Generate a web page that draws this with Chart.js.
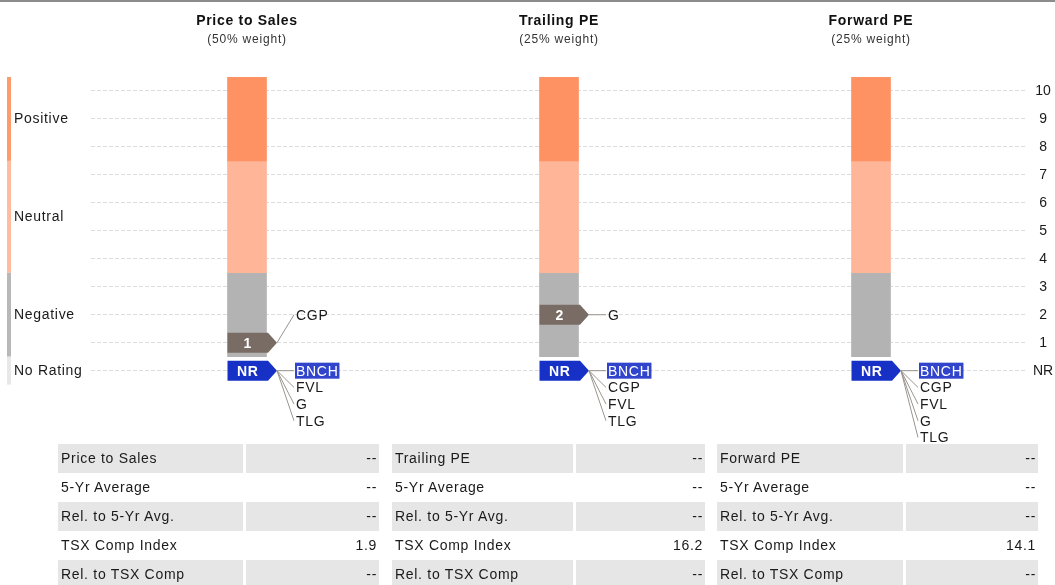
<!DOCTYPE html>
<html>
<head>
<meta charset="utf-8">
<script src="https://cdn.jsdelivr.net/npm/chart.js@4.4.1/dist/chart.umd.min.js"></script>
<style>
html,body{margin:0;padding:0;background:#fff;}
#wrap{position:relative;width:1055px;height:585px;overflow:hidden;font-family:"Liberation Sans",Arial,sans-serif;}
#topline{position:absolute;left:0;top:0;width:1055px;height:2px;background:#8c8c8c;z-index:2;}
#c{position:absolute;left:0;top:0;}
.tbl{position:absolute;top:444px;}
.row{display:flex;height:29px;}
.cell{height:29px;line-height:29px;font-size:14px;letter-spacing:0.7px;color:#1a1a1a;white-space:nowrap;box-sizing:border-box;}
.lab{padding-left:3px;}
.val{padding-right:2px;text-align:right;margin-left:3px;}
.row.g .cell{background:#e6e6e6;}
</style>
</head>
<body>
<div id="wrap">
  <div id="topline"></div>
  <canvas id="c" width="1055" height="455"></canvas>
</div>
<script>
// ---------- data ----------
const categories = ['Price to Sales', 'Trailing PE', 'Forward PE'];
const weights = ['(50% weight)', '(25% weight)', '(25% weight)'];
const bandNames = ['Positive', 'Neutral', 'Negative', 'No Rating'];
const positiveBand = [[7.5, 10.5], [7.5, 10.5], [7.5, 10.5]];
const neutralBand = [[3.5, 7.5], [3.5, 7.5], [3.5, 7.5]];
const negativeBand = [[0.5, 3.5], [0.5, 3.5], [0.5, 3.5]];
const noRatingBand = [-0.5, 0.5];
const scoreTicks = [0, 1, 2, 3, 4, 5, 6, 7, 8, 9, 10];
const tickLabels = ['NR', '1', '2', '3', '4', '5', '6', '7', '8', '9', '10'];
const ratedScore = [1, 2, null];
const ratedLabels = ['1', '2', null];
const ratedTickers = [['CGP'], ['G'], []];
const ratedTickerAt = [2, 2, null];
const nrTickers = [
  ['BNCH', 'FVL', 'G', 'TLG'],
  ['BNCH', 'CGP', 'FVL', 'TLG'],
  ['BNCH', 'CGP', 'FVL', 'G', 'TLG']
];
const highlightTicker = 'BNCH';
const tableLabels = [
  ['Price to Sales', '5-Yr Average', 'Rel. to 5-Yr Avg.', 'TSX Comp Index', 'Rel. to TSX Comp'],
  ['Trailing PE', '5-Yr Average', 'Rel. to 5-Yr Avg.', 'TSX Comp Index', 'Rel. to TSX Comp'],
  ['Forward PE', '5-Yr Average', 'Rel. to 5-Yr Avg.', 'TSX Comp Index', 'Rel. to TSX Comp']
];
const tableValues = [
  ['--', '--', '--', '1.9', '--'],
  ['--', '--', '--', '16.2', '--'],
  ['--', '--', '--', '14.1', '--']
];

// ---------- tables (HTML text) ----------
const tableGeom = [
  {left: 58, lab: 185, val: 133},
  {left: 392, lab: 181, val: 129},
  {left: 717, lab: 186, val: 132}
];
const wrap = document.getElementById('wrap');
tableLabels.forEach((labels, t) => {
  const g = tableGeom[t];
  const tbl = document.createElement('div');
  tbl.className = 'tbl';
  tbl.style.left = g.left + 'px';
  labels.forEach((lab, r) => {
    const row = document.createElement('div');
    row.className = 'row' + (r % 2 === 0 ? ' g' : '');
    const a = document.createElement('div');
    a.className = 'cell lab'; a.style.width = g.lab + 'px'; a.textContent = lab;
    const b = document.createElement('div');
    b.className = 'cell val'; b.style.width = g.val + 'px'; b.textContent = tableValues[t][r];
    row.appendChild(a); row.appendChild(b);
    tbl.appendChild(row);
  });
  wrap.appendChild(tbl);
});

// ---------- chart ----------
const FONT = '"Liberation Sans", Arial, sans-serif';
Chart.defaults.font.family = FONT;

const colors = {
  positive: '#ff9263',
  neutral: '#ffb597',
  negative: '#b3b3b3',
  strip: ['#ff9a6c', '#ffbc9f', '#b8b8b8', '#e8e8e8'],
  rated: '#786c64',
  nr: '#1730c6',
  highlight: '#3045cc',
  connector: '#9a948e',
  text: '#1a1a1a'
};

const decor = {
  id: 'decor',
  afterDatasetsDraw(chart) {
    const ctx = chart.ctx;
    const x = chart.scales.x, y = chart.scales.y;
    ctx.save();
    ctx.letterSpacing = '0.7px';
    // titles
    categories.forEach((c, i) => {
      const cx = x.getPixelForValue(i);
      ctx.textAlign = 'center';
      ctx.textBaseline = 'middle';
      ctx.fillStyle = '#111';
      ctx.font = 'bold 14px ' + FONT;
      ctx.fillText(c, cx, 21);
      ctx.letterSpacing = '0.8px';
      ctx.fillStyle = '#333';
      ctx.font = '12px ' + FONT;
      ctx.fillText(weights[i], cx, 40);
      ctx.letterSpacing = '0.7px';
    });
    // left strip & band labels
    const bands = [positiveBand[0], neutralBand[0], negativeBand[0], noRatingBand];
    bands.forEach((b, k) => {
      const yTop = y.getPixelForValue(b[1]);
      const yBot = y.getPixelForValue(b[0]);
      ctx.fillStyle = colors.strip[k];
      ctx.fillRect(7, yTop, 4, yBot - yTop);
      ctx.fillStyle = colors.text;
      ctx.font = '14px ' + FONT;
      ctx.textAlign = 'left';
      ctx.textBaseline = 'middle';
      ctx.fillText(bandNames[k], 14, y.getPixelForValue((b[0] + b[1]) / 2));
    });
    // markers
    const meta = chart.getDatasetMeta(0);
    const drawMarker = (el, vy, color, label, tickers, labelStartVal) => {
      const left = el.x - el.width / 2;
      const bodyR = el.x + el.width / 2 + 1.5;
      const tip = bodyR + 9;
      const h = 10;
      ctx.fillStyle = color;
      ctx.beginPath();
      ctx.moveTo(left, vy - h);
      ctx.lineTo(bodyR, vy - h);
      ctx.lineTo(tip, vy);
      ctx.lineTo(bodyR, vy + h);
      ctx.lineTo(left, vy + h);
      ctx.closePath();
      ctx.fill();
      ctx.fillStyle = '#fff';
      ctx.font = 'bold 14px ' + FONT;
      ctx.textAlign = 'center';
      ctx.textBaseline = 'middle';
      ctx.fillText(label, (left + bodyR) / 2, vy + 1);
      const lx = tip + 19;
      const ly0 = y.getPixelForValue(labelStartVal);
      tickers.forEach((t, k) => {
        const ly = ly0 + k * 16.7;
        ctx.strokeStyle = colors.connector;
        ctx.lineWidth = 1;
        ctx.beginPath();
        ctx.moveTo(tip, vy);
        ctx.lineTo(lx - 2, ly);
        ctx.stroke();
        ctx.font = '14px ' + FONT;
        ctx.textAlign = 'left';
        ctx.textBaseline = 'middle';
        const w = ctx.measureText(t).width;
        if (t === highlightTicker) {
          ctx.fillStyle = colors.highlight;
          ctx.fillRect(lx - 1, ly - 8, w + 2, 16);
          ctx.fillStyle = '#fff';
        } else {
          ctx.fillStyle = colors.text;
        }
        ctx.fillText(t, lx, ly + 1);
      });
    };
    categories.forEach((c, i) => {
      const el = meta.data[i];
      if (ratedScore[i] !== null) {
        drawMarker(el, y.getPixelForValue(ratedScore[i]), colors.rated, ratedLabels[i], ratedTickers[i], ratedTickerAt[i]);
      }
      drawMarker(el, y.getPixelForValue(0), colors.nr, 'NR', nrTickers[i], 0);
    });
    ctx.restore();
  }
};

new Chart(document.getElementById('c'), {
  type: 'bar',
  data: {
    labels: categories,
    datasets: [
      {label: 'Positive', data: positiveBand, backgroundColor: colors.positive, grouped: false, barThickness: 39},
      {label: 'Neutral', data: neutralBand, backgroundColor: colors.neutral, grouped: false, barThickness: 39},
      {label: 'Negative', data: negativeBand, backgroundColor: colors.negative, grouped: false, barThickness: 39}
    ]
  },
  options: {
    responsive: false,
    animation: false,
    events: [],
    layout: {padding: {top: 77, left: 91, right: 0, bottom: 4}},
    plugins: {legend: {display: false}, tooltip: {enabled: false}},
    scales: {
      x: {display: false},
      y: {
        position: 'right',
        min: -2.5,
        max: 10.5,
        afterBuildTicks: s => { s.ticks = scoreTicks.map(v => ({value: v})); },
        afterFit: s => { s.width = 28; },
        ticks: {
          callback: (v) => tickLabels[scoreTicks.indexOf(v)],
          crossAlign: 'center',
          padding: 6,
          color: '#1a1a1a',
          font: {size: 14}
        },
        grid: {color: '#dcdcdc', drawTicks: false, lineWidth: 1},
        border: {display: false, dash: [4, 2]}
      }
    }
  },
  plugins: [decor]
});
</script>
</body>
</html>
